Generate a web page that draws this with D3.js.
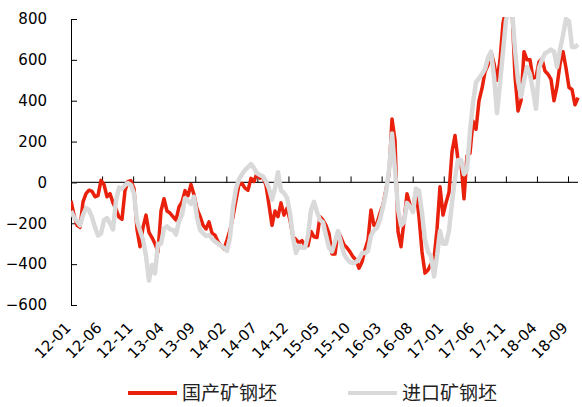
<!DOCTYPE html>
<html>
<head>
<meta charset="utf-8">
<script src="https://cdn.jsdelivr.net/npm/d3@7"></script>
<style>
  body { margin: 0; background: #fff; }
  svg { display: block; }
  .tick line { stroke: #000; }
</style>
</head>
<body>
<div id="chart"></div>
<script>
// x labels (every 5 months) and y ticks
const labels = ['12-01', '12-06', '12-11', '13-04', '13-09', '14-02', '14-07', '14-12', '15-05',
  '15-10', '16-03', '16-08', '17-01', '17-06', '17-11', '18-04', '18-09'];
const yTicks = [-600, -400, -200, 0, 200, 400, 600, 800];
const seriesNames = ['国产矿钢坯', '进口矿钢坯'];

// 国产矿钢坯
const domestic = [
  -90, -160, -210, -220, -95, -55, -38, -44, -70, -65,
  10, -10, -70, -55, -100, -130, -170, -180, -40, 5,
  8, -30, -230, -315, -220, -160, -245, -270, -300, -340,
  -140, -80, -140, -150, -168, -184, -120, -95, -40, -65,
  -10, -60, -130, -165, -209, -228, -193, -248, -258, -290,
  -310, -325, -282, -233, -168, -87, -10, -5, -28, -38,
  20, 5, 45, 21, 27, -15, -110, -210, -140, -168,
  -100, -160, -126, -185, -266, -280, -295, -285, -310, -310,
  -240, -266, -270, -168, -184, -210, -250, -350, -350, -240,
  -270, -305, -320, -340, -364, -380, -420, -390, -330, -282,
  -135, -210, -200, -150, -110, -35, 40, 310, 208, -240,
  -315, -190, -55, -110, -120, -40, -168, -340, -444, -429,
  -400, -375, -230, -21, -160, -100, -48, 150, 230, 110,
  95, -80, 130, 143, 300, 260, 400, 460, 541, 575,
  640, 583, 500, 598, 780, 850, 850, 850, 520, 350,
  400, 640, 600, 600, 510, 516, 590, 605, 545, 530,
  505, 400, 470, 580, 640, 560, 465, 455, 380, 415
];

// 进口矿钢坯
const imported = [
  -140, -170, -190, -210, -160, -126, -135, -170, -220, -260,
  -250, -185, -175, -200, -230, -90, -25, -30, -13, -3,
  -13, -55, -190, -235, -280, -360, -480, -404, -445, -300,
  -300, -225, -215, -230, -233, -255, -190, -160, -77, -90,
  -105, -70, -170, -233, -248, -262, -258, -275, -290, -300,
  -310, -320, -335, -270, -120, -30, 15, 40, 60, 75,
  90, 70, 45, 36, 30, 5, -30, -85, -30, 50,
  -40, -52, -75, -150, -270, -345, -310, -320, -320, -260,
  -135, -95, -145, -184, -195, -260, -320, -338, -290, -238,
  -295, -350, -375, -390, -395, -390, -375, -346, -346, -335,
  -260, -235, -222, -180, -120, -50, 60, 240, 60, -130,
  -210, -195, -100, -119, -145, -30, -40, -150, -280, -340,
  -360, -460, -360, -238, -300, -300, -235, -100, 20, 110,
  110, 40, 60, 250, 390, 490, 510, 530, 555, 610,
  640, 520, 340, 486, 640, 793, 850, 850, 648, 500,
  420, 500, 565, 530, 450, 360, 560, 600, 632, 640,
  650, 640, 565, 650, 720, 800, 790, 663, 663, 675
];

const svgWidth = 582, svgHeight = 407,
  plotLeft = 71, plotRight = 578, plotTop = 19, plotBottom = 305,
  lastTickX = 568,
  labelShift = -3, labelY = 325;

const svg = d3.select('#chart')
  .append('svg')
  .attr('width', svgWidth)
  .attr('height', svgHeight);

const x = d3.scaleLinear().domain([0, domestic.length - 1]).range([plotLeft, plotRight]);
const y = d3.scaleLinear().domain([-600, 800]).range([plotBottom, plotTop]);
const xTick = d3.scaleLinear().domain([0, labels.length - 1]).range([plotLeft, lastTickX]);

// y axis, ticks pointing into the plot
const yAxis = svg.append('g')
  .attr('transform', `translate(${plotLeft},0)`)
  .call(d3.axisLeft(y).tickValues(yTicks).tickSizeInner(-6).tickSizeOuter(0).tickPadding(24));
yAxis.select('.domain').attr('stroke', '#000');
yAxis.selectAll('text')
  .attr('font-family', 'DejaVu Sans')
  .attr('font-size', 15)
  .attr('fill', '#000');

// zero line with tick marks
svg.append('line')
  .attr('x1', plotLeft)
  .attr('x2', plotRight)
  .attr('y1', y(0))
  .attr('y2', y(0))
  .attr('stroke', '#222')
  .attr('stroke-width', 1.3);

const xAxis = svg.append('g')
  .attr('transform', `translate(0,${y(0)})`)
  .call(d3.axisTop(xTick).tickValues(d3.range(labels.length)).tickSize(6).tickFormat(''));
xAxis.select('.domain').remove();

// rotated month labels at the bottom, one per tick mark
svg.selectAll('.x-label')
  .data(labels)
  .enter()
  .append('text')
  .attr('class', 'x-label')
  .attr('transform', (d, i) => `translate(${xTick(i) + labelShift},${labelY}) rotate(-45)`)
  .attr('text-anchor', 'end')
  .attr('dy', '0.35em')
  .attr('font-family', 'DejaVu Sans')
  .attr('font-size', 15)
  .attr('fill', '#000')
  .text(d => d);

// clip lines to the plot area
svg.append('clipPath')
  .attr('id', 'plot-clip')
  .append('rect')
  .attr('x', plotLeft)
  .attr('y', plotTop - 2)
  .attr('width', plotRight - plotLeft + 5)
  .attr('height', plotBottom - plotTop + 4);

const line = d3.line()
  .x((d, i) => x(i))
  .y(d => y(d))
  .curve(d3.curveLinear);

const series = [
  { name: seriesNames[0], values: domestic, color: '#E8200C', width: 3.5 },
  { name: seriesNames[1], values: imported, color: '#D9D9D9', width: 4.5 }
];

svg.selectAll('.series')
  .data(series)
  .enter()
  .append('path')
  .attr('class', 'series')
  .attr('clip-path', 'url(#plot-clip)')
  .attr('d', d => line(d.values))
  .attr('fill', 'none')
  .attr('stroke', d => d.color)
  .attr('stroke-width', d => d.width)
  .attr('stroke-linejoin', 'round');

// legend
const legend = svg.selectAll('.legend')
  .data(series)
  .enter()
  .append('g')
  .attr('class', 'legend')
  .attr('transform', (d, i) => `translate(${128 + i * 220},393)`);

legend.append('line')
  .attr('x1', 0)
  .attr('x2', 49)
  .attr('stroke', d => d.color)
  .attr('stroke-width', 4);

legend.append('text')
  .attr('x', 54)
  .attr('dy', '0.36em')
  .attr('font-family', 'Noto Sans CJK SC')
  .attr('font-size', 19)
  .attr('fill', '#222')
  .text(d => d.name);
</script>
</body>
</html>
